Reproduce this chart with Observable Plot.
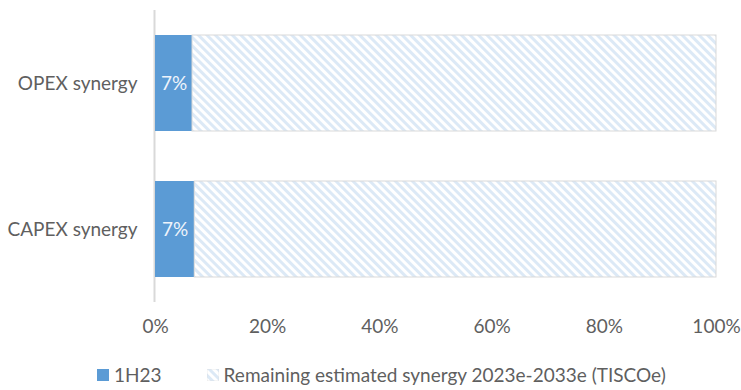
<!DOCTYPE html>
<html>
<head>
<meta charset="utf-8">
<script src="https://cdn.jsdelivr.net/npm/d3@7"></script>
<script src="https://cdn.jsdelivr.net/npm/@observablehq/plot@0.6"></script>
<style>
  body { margin: 0; background: #fff; font-family: Lato, sans-serif; }
  #wrap { position: relative; width: 741px; height: 390px; }
  #legend { position: absolute; left: 97px; top: 363px; display: flex; align-items: center;
            font-size: 19px; color: #5f5f5f; }
  .item { display: flex; align-items: center; }
  .item + .item { margin-left: 45px; }
  .item svg { margin-right: 5px; }
</style>
</head>
<body>
<div id="wrap">
  <div id="chart"></div>
  <div id="legend"></div>
</div>
<script>
// Share of synergy achieved in 1H23 vs. remaining estimate
const categories = ["OPEX synergy", "CAPEX synergy"];
const achieved1H23 = [6.6, 7.0];           // % of total synergy
const seriesNames = ["1H23", "Remaining estimated synergy 2023e-2033e (TISCOe)"];
const xTicks = [0, 20, 40, 60, 80, 100];

const blue = "#5b9bd5";
const stripe = "#dce9f6";
const grey = "#d9d9d9";
const textColor = "#5f5f5f";

const rows = [];
categories.forEach((c, i) => {
  rows.push({category: c, series: seriesNames[0], x1: 0, x2: achieved1H23[i], value: achieved1H23[i]});
  rows.push({category: c, series: seriesNames[1], x1: achieved1H23[i], x2: 100, value: 100 - achieved1H23[i]});
});

const chart = Plot.plot({
  width: 741,
  height: 355,
  marginLeft: 155,
  marginRight: 25,
  marginTop: 10,
  marginBottom: 53,
  style: {fontFamily: "Lato, sans-serif", fontSize: "19px", color: textColor, background: "#fff"},
  x: {domain: [0, 100], ticks: xTicks, tickFormat: d => d + "%", tickSize: 0, tickPadding: 17, label: null},
  y: {domain: categories, paddingInner: 0.342, paddingOuter: 0.171, tickSize: 0, tickPadding: 18, label: null},
  color: {domain: seriesNames, range: [blue, "url(#hatch)"]},
  marks: [
    Plot.ruleX([0], {stroke: grey, strokeWidth: 2, dx: -1}),
    Plot.barX(rows, {
      y: "category", x1: "x1", x2: "x2", fill: "series",
      stroke: d => d.series === seriesNames[1] ? grey : "none",
      strokeWidth: 1, insetLeft: 0, insetRight: 0
    }),
    Plot.text(rows.filter(d => d.series === seriesNames[0]), {
      y: "category", x: d => (d.x1 + d.x2) / 2,
      text: d => Math.round(d.value) + "%", fill: "#eef4fb", fontSize: 19
    })
  ]
});

// diagonal stripe pattern for the remaining share
const defs = d3.select(chart).insert("defs", ":first-child");
const pat = defs.append("pattern")
  .attr("id", "hatch").attr("patternUnits", "userSpaceOnUse")
  .attr("width", 6).attr("height", 6)
  .attr("patternTransform", "rotate(-45)");
pat.append("rect").attr("width", 6).attr("height", 6).attr("fill", "#ffffff");
pat.append("rect").attr("width", 3).attr("height", 6).attr("fill", stripe);

document.getElementById("chart").appendChild(chart);

// legend
const legend = d3.select("#legend");
seriesNames.forEach((name, i) => {
  const item = legend.append("div").attr("class", "item");
  const sw = item.append("svg").attr("width", 12).attr("height", 12);
  sw.append("rect").attr("width", 12).attr("height", 12)
    .attr("fill", i === 0 ? blue : "url(#hatch)")
    .attr("stroke", i === 0 ? "none" : grey).attr("stroke-width", 0.5);
  item.append("span").text(name);
});
</script>
</body>
</html>
